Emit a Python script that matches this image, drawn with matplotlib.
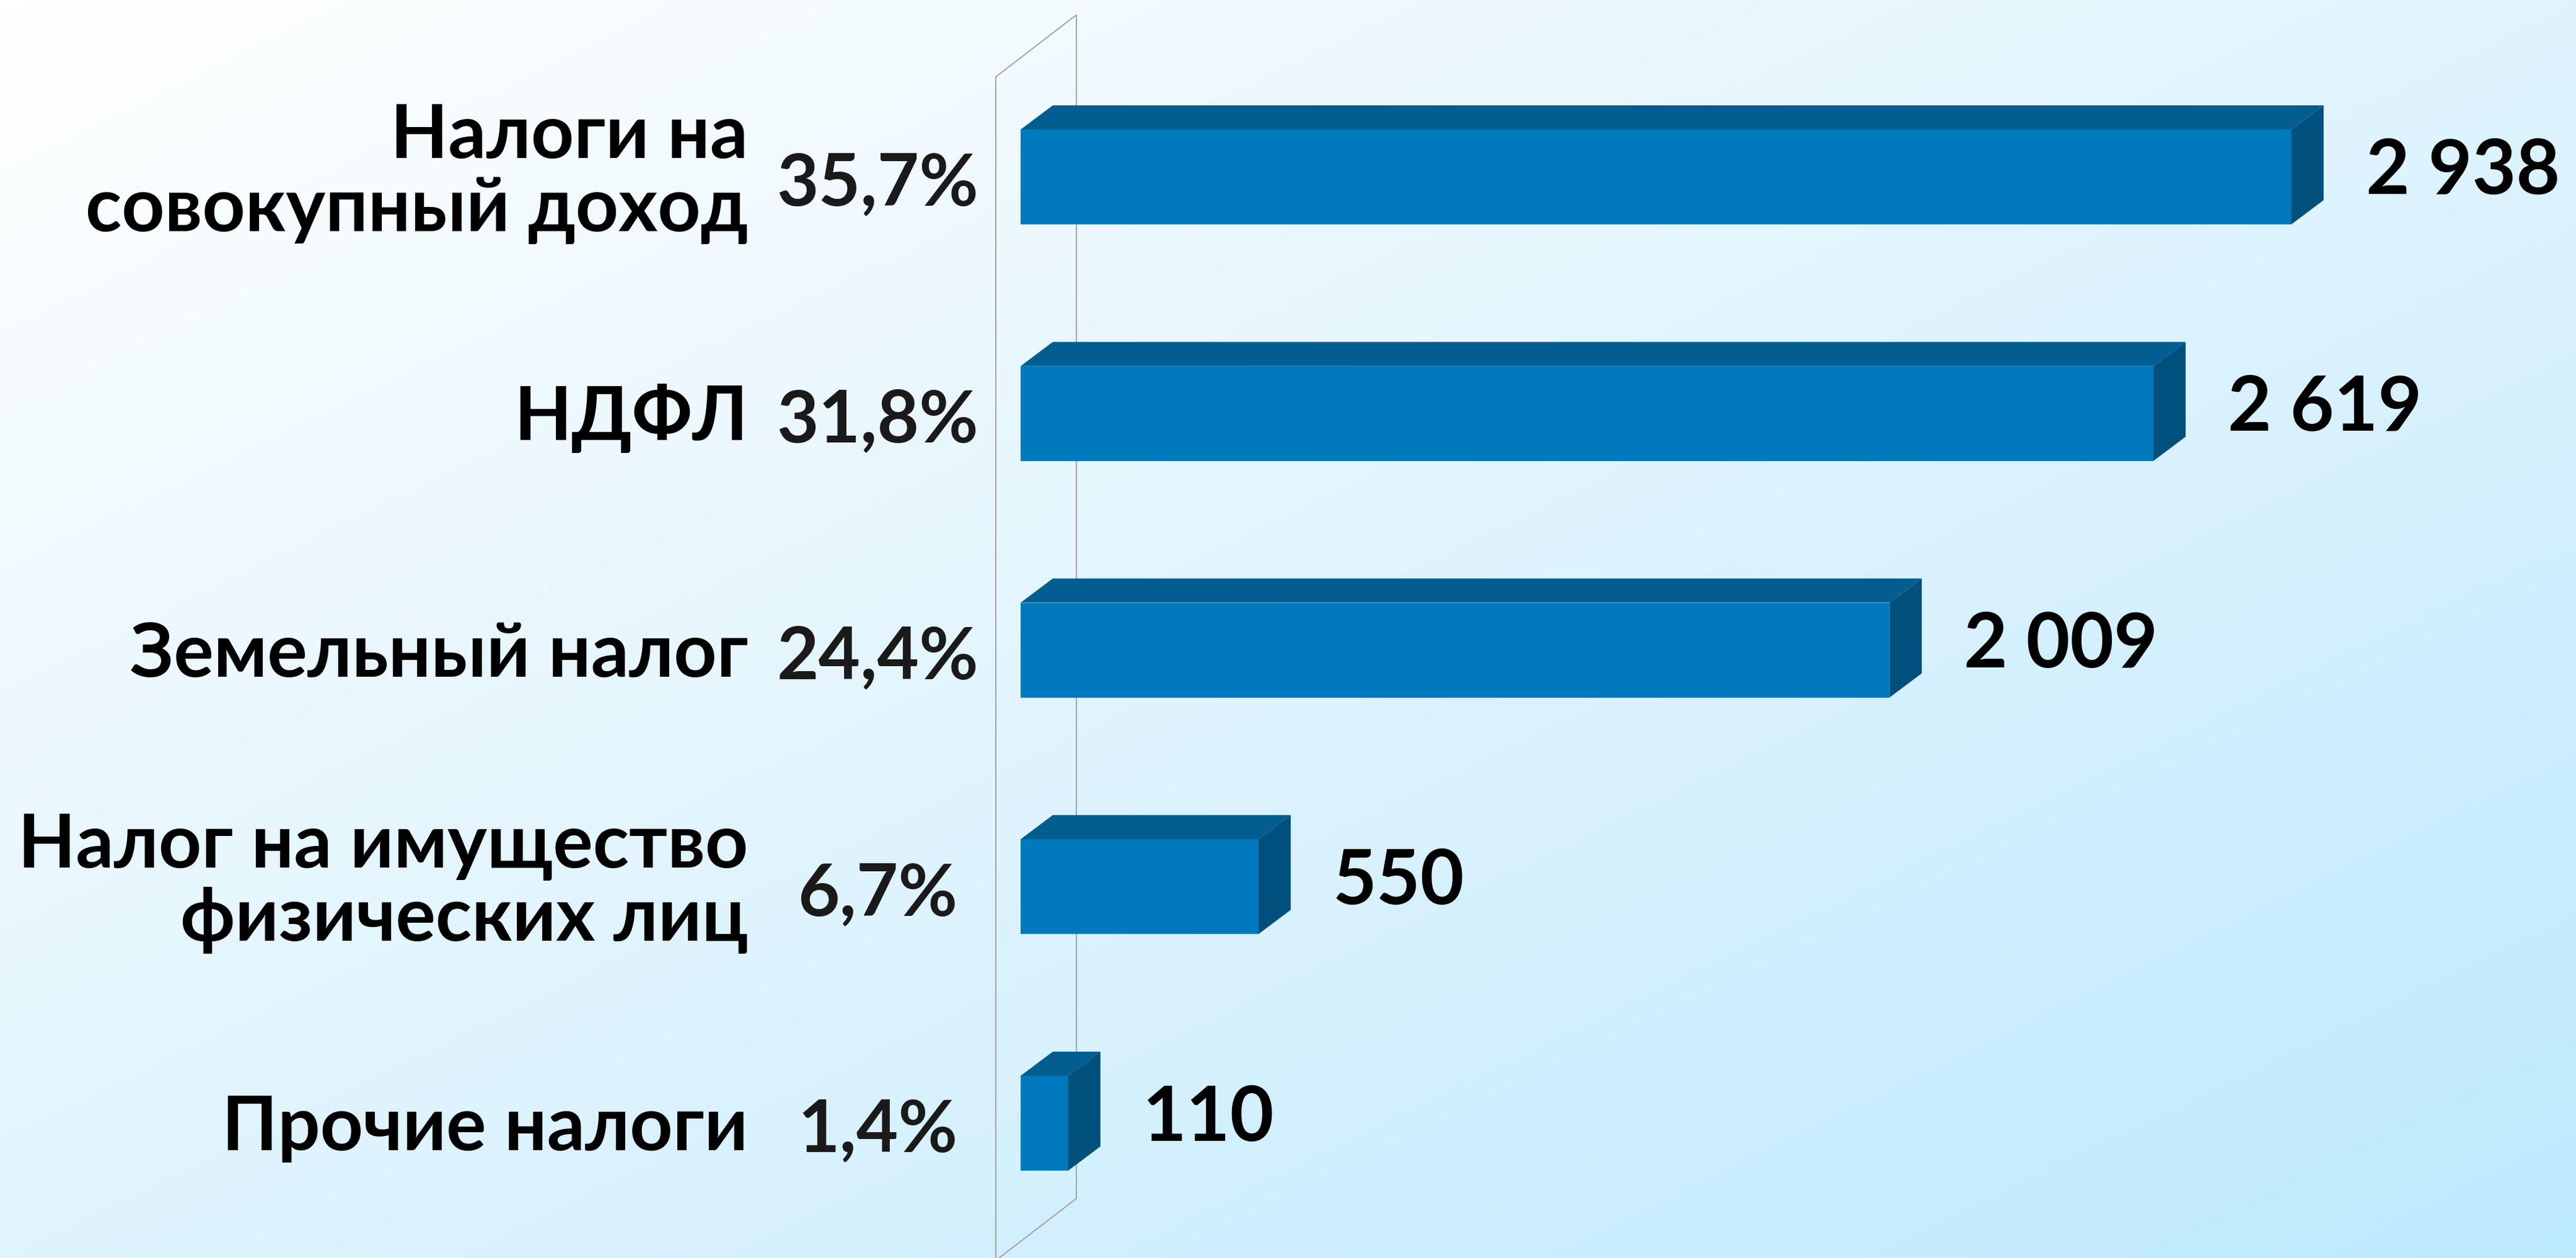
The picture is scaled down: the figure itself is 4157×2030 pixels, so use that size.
import numpy as np
import matplotlib.pyplot as plt
from matplotlib.colors import LinearSegmentedColormap
from matplotlib.patches import Polygon

categories = ['Налоги на\nсовокупный доход', 'НДФЛ', 'Земельный налог',
              'Налог на имущество\nфизических лиц', 'Прочие налоги']
values = [2938, 2619, 2009, 550, 110]
shares = ['35,7%', '31,8%', '24,4%', '6,7%', '1,4%']

FONT = ['Lato', 'Open Sans', 'DejaVu Sans']
FRONT, TOP, SIDE = '#0079bf', '#025d91', '#00507d'

W, H, DPI = 4157, 2031, 100
s = 0.698          # pixels per value unit
x0 = 1647          # pixel of zero
pitch = 381.75     # pixels between rows
y0 = 286.5         # pixel of first row centre


def px_x(p):
    return p / s


def px_y(p):
    return p / pitch


fig = plt.figure(figsize=(W / DPI, H / DPI), dpi=DPI)

# background gradient
bg = fig.add_axes([0, 0, 1, 1], zorder=0)
u, v = np.meshgrid(np.linspace(0, 1, 400), np.linspace(0, 1, 200))
t = (u + v) / 2
cmap = LinearSegmentedColormap.from_list('bg', [(0, '#ffffff'), (0.5, '#e0f4fd'), (1, '#bde9fd')])
bg.imshow(t, cmap=cmap, aspect='auto', extent=(0, 1, 1, 0), vmin=0, vmax=1)
bg.axis('off')

ax = fig.add_axes([0, 0, 1, 1], zorder=1)
ax.patch.set_alpha(0)
ax.set_xlim(-x0 / s, (W - x0) / s)
ax.set_ylim((H - y0) / pitch, -y0 / pitch)
ax.axis('off')

# side wall
wf = px_x(1607 - x0)
wt, wb = px_y(125 - y0), px_y(2035 - y0)
wdx, wdy = px_x(130), px_y(100)
for xs, ys in [([wf, wf], [wt, wb]),
               ([wf + wdx, wf + wdx], [wt - wdy, wb - wdy]),
               ([wf, wf + wdx], [wt, wt - wdy]),
               ([wf, wf + wdx], [wb, wb - wdy])]:
    ax.plot(xs, ys, color='#a6a6a6', lw=1.5, zorder=1, solid_capstyle='butt')

h = px_y(153)
dx, dy = px_x(52), px_y(39)
pos = np.arange(len(values))
ax.barh(pos, values, height=h, color=FRONT, zorder=3)

for i, val in zip(pos, values):
    top = i - h / 2
    bot = i + h / 2
    ax.add_patch(Polygon([(0, top), (dx, top - dy), (val + dx, top - dy), (val, top)],
                         closed=True, facecolor=TOP, edgecolor='none', zorder=3))
    ax.add_patch(Polygon([(val, top), (val + dx, top - dy), (val + dx, bot - dy), (val, bot)],
                         closed=True, facecolor=SIDE, edgecolor='none', zorder=3))
    label = f'{val:,}'.replace(',', ' ')
    ax.text(val + dx + px_x(68), i + px_y(27), label, ha='left', va='baseline',
            fontsize=88, fontweight='bold', color='black', family=FONT, zorder=4)

for i, (cat, share) in enumerate(zip(categories, shares)):
    n = cat.count('\n') + 1
    off = 42 + (n - 1) * 44
    ax.text(px_x(1207 - x0), i + px_y(off), cat, ha='right', va='baseline',
            multialignment='right', linespacing=1.08,
            fontsize=87, fontweight='bold', color='black', family=FONT, zorder=4)
    ax.text(px_x(1416 - x0), i + px_y(45), share, ha='center', va='baseline',
            fontsize=84, fontweight='bold', color='#1a1a1a', family=FONT, zorder=4)

fig.savefig('out.png', dpi=DPI)
